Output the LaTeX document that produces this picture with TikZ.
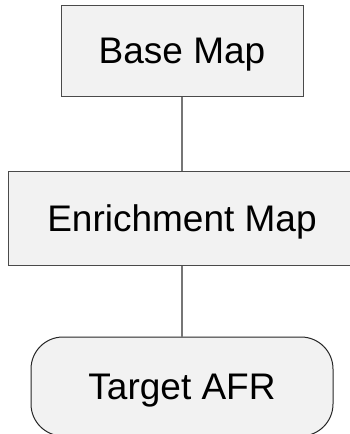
\documentclass[tikz,border=0pt]{standalone}
\usepackage{fontspec}
\setmainfont{Liberation Sans}
\definecolor{boxfill}{HTML}{F2F2F2}
\definecolor{boxline}{HTML}{4A4A4A}
\definecolor{linkline}{HTML}{767676}
\begin{document}
\begin{tikzpicture}[x=1pt,y=-1pt,
  mapbox/.style={draw=boxline, fill=boxfill, line width=1pt, inner sep=0pt,
    text height=26.5pt, text depth=0pt, font=\fontsize{37}{44}\selectfont},
  termbox/.style={mapbox, draw=black!85, rounded corners=32pt},
  link/.style={draw=linkline, line width=1.3pt}]
  \useasboundingbox (0,0) rectangle (350,434);
  \clip (0,0) rectangle (350,434);
  \node[mapbox, minimum width=242pt, minimum height=91pt] (base) at (182,50.5) {Base Map};
  \node[mapbox, minimum width=348pt, minimum height=94pt] (enrich) at (182,218) {Enrichment Map};
  \node[termbox, minimum width=302pt, minimum height=99pt] (target) at (182,386.5) {Target AFR};
  \draw[link] (base.south) -- (enrich.north);
  \draw[link] (enrich.south) -- (target.north);
\end{tikzpicture}
\end{document}
